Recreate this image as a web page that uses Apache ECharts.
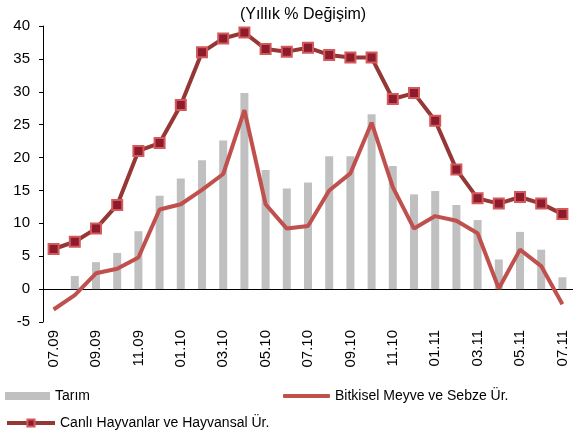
<!DOCTYPE html>
<html>
<head>
<meta charset="utf-8">
<script src="https://cdn.jsdelivr.net/npm/echarts@6/dist/echarts.min.js"></script>
<style>
  html, body { margin: 0; padding: 0; background: #fff; }
</style>
</head>
<body>
<div id="myChart" style="width:573px;height:439px;"></div>
<script>
// aylar (07.09 - 07.11)
var months = [
  "07.09", "08.09", "09.09", "10.09", "11.09", "12.09",
  "01.10", "02.10", "03.10", "04.10", "05.10", "06.10",
  "07.10", "08.10", "09.10", "10.10", "11.10", "12.10",
  "01.11", "02.11", "03.11", "04.11", "05.11", "06.11", "07.11"
];
var tarim = [
  null, 2.0, 4.1, 5.5, 8.8, 14.2,
  16.8, 19.6, 22.6, 29.8, 18.1, 15.3,
  16.2, 20.2, 20.2, 26.6, 18.7, 14.4,
  14.9, 12.8, 10.5, 4.5, 8.7, 6.0, 1.8
];
var bitkisel = [
  -3.1, -0.9, 2.4, 3.1, 4.8, 12.1,
  12.9, 15.1, 17.5, 27.2, 12.9, 9.2,
  9.6, 15.0, 17.6, 25.3, 15.5, 9.2,
  11.1, 10.4, 8.5, 0.1, 6.0, 3.5, -2.3
];
var canli = [
  6.1, 7.2, 9.2, 12.8, 21.0, 22.2,
  28.0, 36.0, 38.1, 39.0, 36.5, 36.1,
  36.7, 35.6, 35.2, 35.2, 28.9, 29.8,
  25.6, 18.2, 13.8, 13.0, 14.0, 13.0, 11.4
];
var yTicks = { min: -5, max: 40, step: 5 };

var font = "'Liberation Sans', Arial, sans-serif";
var myChart = echarts.init(document.getElementById("myChart"));

myChart.setOption({
  animation: false,
  title: {
    text: "(Yıllık % Değişim)",
    left: 298,
    textAlign: "center",
    top: 2,
    textStyle: { fontFamily: font, fontSize: 16, fontWeight: "normal", color: "#000" }
  },
  legend: [
    {
      data: [{ name: "Tarım", icon: "rect" }],
      left: 0, top: 384,
      itemWidth: 45, itemHeight: 8,
      textStyle: { fontFamily: font, fontSize: 14, color: "#000" }
    },
    {
      data: [{ name: "Bitkisel Meyve ve Sebze Ür.", icon: "roundRect" }],
      left: 278, top: 384,
      itemWidth: 47, itemHeight: 4,
      textStyle: { fontFamily: font, fontSize: 14, color: "#000" }
    },
    {
      data: ["Canlı Hayvanlar ve Hayvansal Ür."],
      left: 0, top: 411,
      itemWidth: 48, itemHeight: 9,
      lineStyle: { width: 4 },
      textStyle: { fontFamily: font, fontSize: 14, color: "#000" }
    }
  ],
  grid: { left: 43, right: -6, top: 26, bottom: 117, containLabel: false },
  xAxis: {
    type: "category",
    data: months,
    boundaryGap: true,
    axisLine: { onZero: true, lineStyle: { color: "#000", width: 1 } },
    axisTick: { interval: 1, length: 5, lineStyle: { color: "#000" } },
    axisLabel: {
      interval: 1, rotate: 90, margin: 8,
      fontFamily: font, fontSize: 15, color: "#000"
    },
    splitLine: { show: false }
  },
  yAxis: {
    type: "value",
    min: yTicks.min, max: yTicks.max, interval: yTicks.step,
    axisLine: { show: true, lineStyle: { color: "#000", width: 1 } },
    axisTick: { show: true, length: 4, lineStyle: { color: "#000" } },
    axisLabel: { fontFamily: font, fontSize: 15, color: "#000", margin: 13 },
    splitLine: { show: false }
  },
  series: [
    {
      name: "Tarım",
      type: "bar",
      data: tarim,
      barWidth: 8,
      itemStyle: { color: "#c0c0c0" },
      z: 1
    },
    {
      name: "Bitkisel Meyve ve Sebze Ür.",
      type: "line",
      data: bitkisel,
      showSymbol: false,
      symbol: "none",
      lineStyle: { color: "#c0504d", width: 4 },
      itemStyle: { color: "#c0504d" },
      z: 2
    },
    {
      name: "Canlı Hayvanlar ve Hayvansal Ür.",
      type: "line",
      data: canli,
      symbol: "rect",
      symbolSize: 10,
      lineStyle: { color: "#953735", width: 4 },
      itemStyle: { color: "#8e1a2e", borderColor: "#d25a5a", borderWidth: 2 },
      z: 3
    }
  ]
});
</script>
</body>
</html>
